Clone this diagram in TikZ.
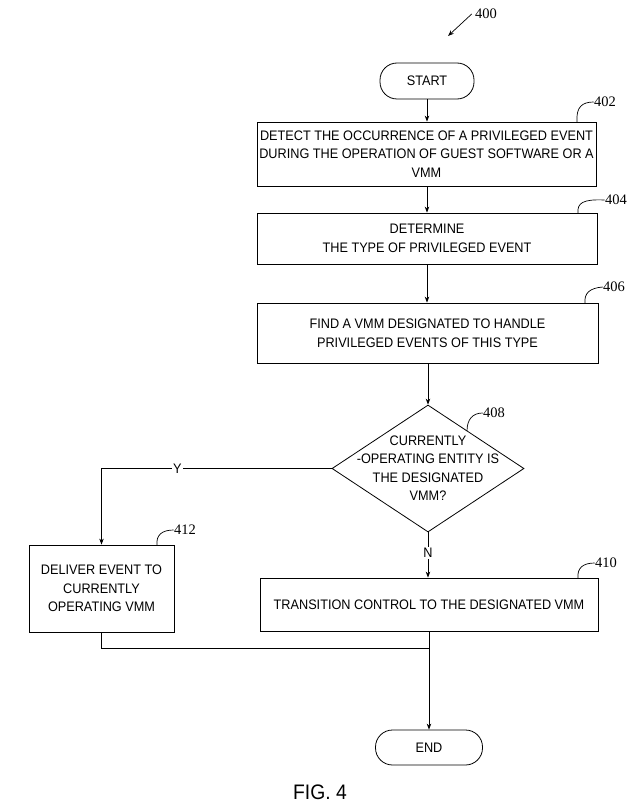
\documentclass[tikz,border=0pt]{standalone}
\usepackage{fontspec}
\setmainfont{Liberation Sans}
\newfontfamily\boxfont[FakeStretch=0.92]{Liberation Sans}
\newfontfamily\numfont{Liberation Serif}
\usetikzlibrary{arrows.meta,shapes.geometric}
\begin{document}
\begin{tikzpicture}[x=1pt,y=-1pt,
  line width=0.8pt,
  box/.style={draw, rectangle, align=center, inner sep=0pt,
    font=\boxfont\fontsize{13.8}{18.5}\selectfont},
  term/.style={draw, rectangle, rounded corners=17pt, align=center, inner sep=0pt,
    font=\boxfont\fontsize{13.8}{18.5}\selectfont},
  dtext/.style={align=center, inner sep=0pt,
    font=\boxfont\fontsize{13.8}{18.5}\selectfont},
  yn/.style={fill=white, inner sep=1.5pt, font=\boxfont\fontsize{13.8}{16}\selectfont},
  num/.style={inner sep=0pt, font=\numfont\fontsize{14.5}{16}\selectfont},
  arr/.style={-{Stealth[length=6pt,width=4.5pt]}},
  hook/.style={line width=0.7pt}
]
\useasboundingbox (0,0) rectangle (632,805);
\fill[white] (0,0) rectangle (632,805);

% nodes
\node[term, minimum width=94pt, minimum height=36pt] (start) at (427,81) {START};
\node[box, minimum width=339pt, minimum height=64pt] (b402) at (426.5,154)
  {DETECT THE OCCURRENCE OF A PRIVILEGED EVENT\\DURING THE OPERATION OF GUEST SOFTWARE OR A\\VMM};
\node[box, minimum width=340pt, minimum height=51pt] (b404) at (427,238.5)
  {DETERMINE\\THE TYPE OF PRIVILEGED EVENT};
\node[box, minimum width=341pt, minimum height=60pt] (b406) at (427.5,333)
  {FIND A VMM DESIGNATED TO HANDLE\\PRIVILEGED EVENTS OF THIS TYPE};
\node[draw, diamond, minimum width=192pt, minimum height=127pt, inner sep=0pt] (dec) at (428,468.5) {};
\node[dtext] (dectext) at (428,468) {CURRENTLY\\-OPERATING ENTITY IS\\THE DESIGNATED\\VMM?};
\node[box, minimum width=145pt, minimum height=87pt] (b412) at (101.5,588.5)
  {DELIVER EVENT TO\\CURRENTLY\\OPERATING VMM};
\node[box, minimum width=338pt, minimum height=53pt] (b410) at (429,604.5)
  {TRANSITION CONTROL TO THE DESIGNATED VMM};
\node[term, minimum width=107pt, minimum height=35pt] (end) at (429,747.5) {END};
\node[font=\boxfont\fontsize{21}{21}\selectfont, inner sep=0pt] (fig) at (320,792) {FIG. 4};

% reference numerals
\node[num] (n400) at (486,14) {400};
\node[num] (n402) at (605,102) {402};
\node[num] (n404) at (616,200) {404};
\node[num] (n406) at (614,287) {406};
\node[num] (n408) at (494,413) {408};
\node[num] (n410) at (606,563) {410};
\node[num] (n412) at (185,530) {412};

\coordinate (a400) at (448,36);
\coordinate (h402) at (577,122);
\coordinate (h404) at (578,213);
\coordinate (h406) at (585,303);
\coordinate (h408) at (467,431);
\coordinate (h410) at (578,578);
\coordinate (h412) at (157,545);
\coordinate (mj) at (429,648);

% connectors
\draw[arr] (start.south) -- (start.south |- b402.north);
\draw[arr] (b402.south -| start.south) -- (start.south |- b404.north);
\draw[arr] (b404.south) -- (b404.south |- b406.north);
\draw[arr] (b406.south -| dec.north) -- (dec.north);
\draw[arr] (dec.west) -| node[yn, pos=0.335] {Y} (b412.north);
\draw[arr] (dec.south) -- node[yn, pos=0.46] {N} (dec.south |- b410.north);
\draw (b412.south) |- (mj);
\draw[arr] (b410.south) -- (b410.south |- end.north);

% leaders
\draw[arr, line width=0.7pt] ([xshift=-3pt]n400.west) -- (a400);
\draw[hook] (h402) .. controls (576,107) and (582,102) .. (n402.west);
\draw[hook] (h404) .. controls (577,203) and (583,199) .. (n404.west);
\draw[hook] (h406) .. controls (584,293) and (590,288) .. (n406.west);
\draw[hook] (h408) .. controls (467,419) and (473,413) .. (n408.west);
\draw[hook] (h410) .. controls (577,568) and (583,563) .. (n410.west);
\draw[hook] (h412) .. controls (156,535) and (162,530) .. (n412.west);
\end{tikzpicture}
\end{document}
